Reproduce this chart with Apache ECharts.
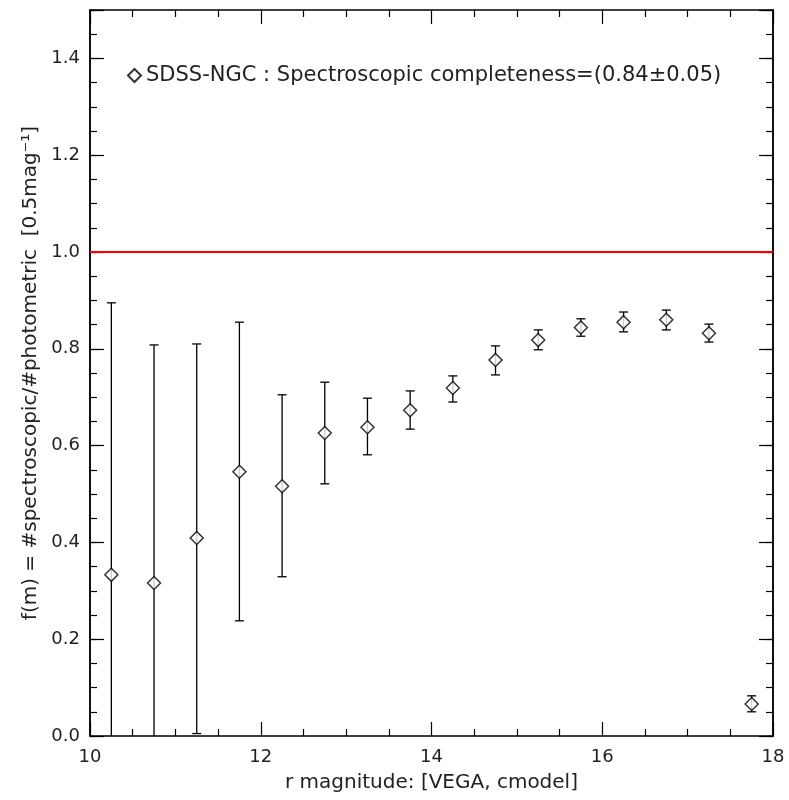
<!DOCTYPE html>
<html>
<head>
<meta charset="utf-8">
<script src="https://cdn.jsdelivr.net/npm/echarts@6/dist/echarts.min.js"></script>
<style>
  html, body { margin: 0; padding: 0; background: #fff; }
  #chart { width: 789px; height: 800px; }
</style>
</head>
<body>
<div id="chart"></div>
<script>
// r magnitude bin centres
const magBins = [10.25, 10.75, 11.25, 11.75, 12.25, 12.75, 13.25, 13.75,
                 14.25, 14.75, 15.25, 15.75, 16.25, 16.75, 17.25, 17.75];
// completeness f(m)
const fracVals = [0.333, 0.316, 0.409, 0.546, 0.516, 0.626, 0.638, 0.673,
                  0.719, 0.777, 0.818, 0.844, 0.855, 0.860, 0.832, 0.066];
// error bar ends
const errLow  = [-0.02, -0.02, 0.005, 0.238, 0.329, 0.521, 0.581, 0.634,
                 0.690, 0.746, 0.798, 0.826, 0.835, 0.839, 0.814, 0.050];
const errHigh = [0.895, 0.808, 0.810, 0.855, 0.705, 0.731, 0.698, 0.713,
                 0.744, 0.806, 0.839, 0.862, 0.876, 0.880, 0.851, 0.083];
const refLevel = 1.0;

const FONT = "DejaVu Sans";
const legendName = "SDSS-NGC : Spectroscopic completeness=(0.84±0.05)";

const chart = echarts.init(document.getElementById("chart"));

const pts = magBins.map((m, i) => [m, fracVals[i]]);
const bars = magBins.map((m, i) => [m, errLow[i], errHigh[i]]);

function xAx(pos, labels) {
  return {
    type: "value", position: pos, min: 10, max: 18, interval: 2,
    axisLine: { show: true, onZero: false, lineStyle: { color: "#000", width: 1.5 } },
    axisTick: { inside: true, length: 14, lineStyle: { color: "#000", width: 1.2 } },
    minorTick: { show: true, splitNumber: 4, length: 7, lineStyle: { color: "#000", width: 1.2 } },
    splitLine: { show: false },
    axisLabel: { show: labels, color: "#222", fontFamily: FONT, fontSize: 18, margin: 12 },
    name: labels ? "r magnitude: [VEGA, cmodel]" : "",
    nameLocation: "middle", nameGap: 37,
    nameTextStyle: { color: "#222", fontFamily: FONT, fontSize: 20 }
  };
}

function yAx(pos, step, len, labels, name) {
  return {
    type: "value", position: pos, min: 0, max: 1.5, interval: step,
    axisLine: { show: true, onZero: false, lineStyle: { color: "#000", width: 1.5 } },
    axisTick: { inside: true, length: len, lineStyle: { color: "#000", width: 1.2 } },
    splitLine: { show: false },
    axisLabel: {
      show: labels, color: "#222", fontFamily: FONT, fontSize: 18, margin: 10,
      formatter: v => (v > 1.45 ? "" : v.toFixed(1))
    },
    name: name || "",
    nameLocation: "middle", nameGap: 48,
    nameTextStyle: { color: "#222", fontFamily: FONT, fontSize: 20 }
  };
}

chart.setOption({
  animation: false,
  grid: { left: 90, right: 16, top: 10, bottom: 64 },
  legend: {
    left: 122, top: 60,
    itemWidth: 13, itemHeight: 13, itemGap: 5,
    data: [legendName],
    textStyle: { color: "#222", fontFamily: FONT, fontSize: 21 }
  },
  xAxis: [xAx("bottom", true), xAx("top", false)],
  yAxis: [
    yAx("left", 0.2, 14, true, "f(m) = #spectroscopic/#photometric  [0.5mag\u207B\u00B9]"),
    yAx("left", 0.05, 7, false),
    yAx("right", 0.2, 14, false),
    yAx("right", 0.05, 7, false)
  ],
  series: [
    {
      name: "ref",
      type: "line",
      data: [[10, refLevel], [18, refLevel]],
      symbol: "none",
      lineStyle: { color: "#ff0000", width: 2 },
      z: 1
    },
    {
      name: "err",
      type: "custom",
      clip: true,
      data: bars,
      renderItem: function (params, api) {
        const x = api.value(0);
        const lo = api.coord([x, api.value(1)]);
        const hi = api.coord([x, api.value(2)]);
        const w = 4.5;
        const style = { stroke: "#000", lineWidth: 1.3 };
        return {
          type: "group",
          children: [
            { type: "line", shape: { x1: lo[0], y1: lo[1], x2: hi[0], y2: hi[1] }, style },
            { type: "line", shape: { x1: hi[0] - w, y1: hi[1], x2: hi[0] + w, y2: hi[1] }, style },
            { type: "line", shape: { x1: lo[0] - w, y1: lo[1], x2: lo[0] + w, y2: lo[1] }, style }
          ]
        };
      },
      z: 2
    },
    {
      name: legendName,
      type: "scatter",
      data: pts,
      symbol: "diamond",
      symbolSize: 13,
      itemStyle: { color: "#fff", borderColor: "#000", borderWidth: 1.5 },
      z: 3
    }
  ]
});
</script>
</body>
</html>
